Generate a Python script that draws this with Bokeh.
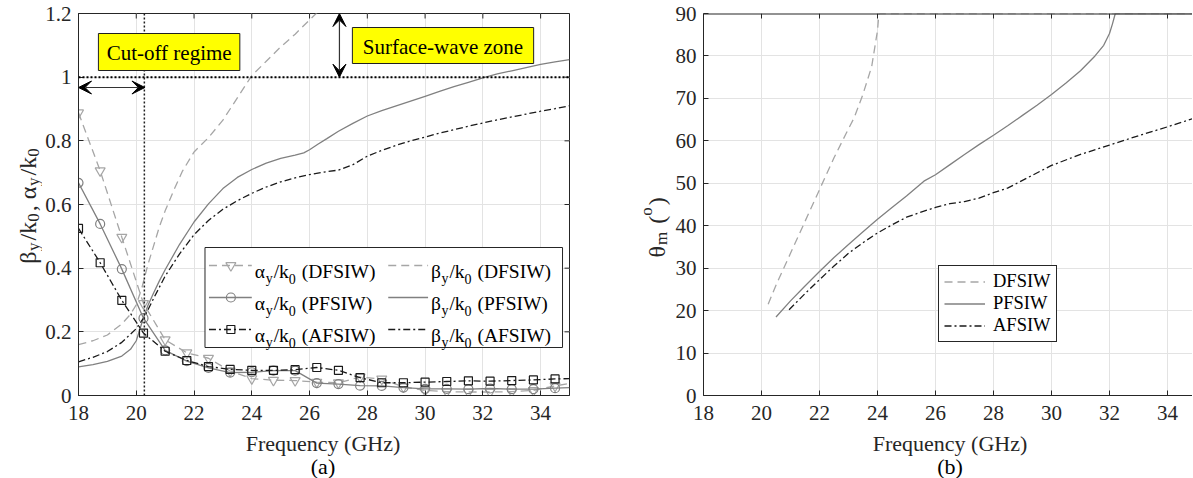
import math
from bokeh.plotting import figure
from bokeh.models import (Range1d, FixedTicker, Label, Span, BoxAnnotation,
                          Arrow, VeeHead, NumeralTickFormatter, Legend, LegendItem)
from bokeh.layouts import row, column
from bokeh.embed import file_html
from bokeh.resources import INLINE

FONT = "Liberation Serif"
AXFONT = "'Liberation Serif'"

# ---------------- data: panel (a) ----------------
f_alpha = [18, 18.75, 19.5, 20.25, 21, 21.75, 22.5, 23.25, 24, 24.75, 25.5, 26.25, 27,
           27.75, 28.5, 29.25, 30, 30.75, 31.5, 32.25, 33, 33.75, 34.5, 35]
alpha_dfsiw = [0.888, 0.706, 0.497, 0.289, 0.175, 0.134, 0.117, 0.077, 0.053, 0.048, 0.047,
               0.042, 0.040, 0.058, 0.052, 0.027, 0.016, 0.012, 0.011, 0.011, 0.012, 0.016,
               0.030, 0.038]
alpha_pfsiw = [0.668, 0.539, 0.397, 0.243, 0.142, 0.108, 0.087, 0.072, 0.073, 0.078, 0.078,
               0.039, 0.036, 0.031, 0.030, 0.025, 0.021, 0.021, 0.020, 0.022, 0.020, 0.020,
               0.023, 0.025]
alpha_afsiw = [0.525, 0.417, 0.299, 0.196, 0.139, 0.110, 0.091, 0.082, 0.079, 0.079, 0.081,
               0.088, 0.079, 0.056, 0.040, 0.040, 0.042, 0.044, 0.046, 0.045, 0.047, 0.049,
               0.052, 0.053]

f_beta_d = [18, 18.5, 19, 19.5, 19.8, 20.0, 20.2, 20.4, 20.6, 20.8, 21.0, 21.3, 21.6, 22.0,
            22.5, 23.0, 23.5, 24.0, 24.5, 25.0, 25.5, 26.0, 26.4]
beta_dfsiw = [0.160, 0.172, 0.190, 0.225, 0.255, 0.285, 0.340, 0.410, 0.470, 0.530, 0.580,
              0.645, 0.705, 0.765, 0.810, 0.865, 0.935, 1.005, 1.050, 1.095, 1.135, 1.180, 1.215]

f_beta_p = [18, 18.5, 19, 19.5, 19.8, 20.0, 20.2, 20.4, 20.6, 20.8, 21, 21.5, 22, 22.5, 23,
            23.5, 24, 24.5, 25, 25.5, 25.8, 26.0, 26.3, 26.6, 27, 27.5, 28, 28.5, 29, 29.5,
            30, 30.5, 31, 31.5, 32, 32.5, 33, 33.5, 34, 34.5, 35]
beta_pfsiw = [0.090, 0.097, 0.107, 0.124, 0.145, 0.172, 0.230, 0.282, 0.322, 0.360, 0.395,
              0.475, 0.545, 0.602, 0.650, 0.685, 0.710, 0.730, 0.745, 0.755, 0.762, 0.772,
              0.790, 0.807, 0.830, 0.855, 0.878, 0.895, 0.910, 0.925, 0.940, 0.955, 0.970,
              0.984, 0.998, 1.010, 1.020, 1.030, 1.040, 1.048, 1.055]

f_beta_a = [18, 18.5, 19, 19.5, 20.0, 20.3, 20.6, 21, 21.5, 22, 22.5, 23, 23.5, 24, 24.5, 25,
            25.5, 26, 26.5, 27, 27.5, 28, 28.5, 29, 29.5, 30, 30.5, 31, 31.5, 32, 32.5, 33,
            33.5, 34, 34.5, 35]
beta_afsiw = [0.106, 0.120, 0.138, 0.167, 0.210, 0.250, 0.305, 0.375, 0.445, 0.505, 0.550,
              0.585, 0.612, 0.635, 0.655, 0.671, 0.684, 0.694, 0.702, 0.708, 0.725, 0.752,
              0.770, 0.786, 0.800, 0.812, 0.824, 0.835, 0.846, 0.856, 0.866, 0.875, 0.884,
              0.893, 0.901, 0.910]

# ---------------- data: panel (b) ----------------
f_th_d = [20.23, 20.5, 21.0, 21.5, 22.0, 22.5, 22.9, 23.2, 23.5, 23.8, 24.0, 24.05, 35]
theta_dfsiw = [21.5, 26.0, 33.5, 41.0, 48.5, 56.0, 61.5, 65.5, 71.0, 77.5, 86.0, 90.0, 90.0]

f_th_p = [20.5, 21, 21.5, 22, 22.5, 23, 23.5, 24, 24.5, 25, 25.6, 26, 26.5, 27, 27.5, 28,
          28.5, 29, 29.5, 30, 30.5, 31, 31.5, 31.8, 32.0, 32.1, 32.2, 35]
theta_pfsiw = [18.5, 22.3, 25.8, 29.2, 32.5, 35.6, 38.6, 41.5, 44.3, 47.0, 50.5, 52.0, 54.4,
               56.8, 59.1, 61.3, 63.6, 66.0, 68.4, 70.9, 73.6, 76.5, 80.0, 82.5, 85.3, 87.5,
               90.0, 90.0]

f_th_a = [20.95, 21.5, 22, 22.5, 23, 23.5, 24, 24.5, 25, 25.5, 26, 26.5, 27, 27.5, 28, 28.5,
          29, 30, 31, 32, 33, 34, 35]
theta_afsiw = [20.2, 24.0, 27.3, 30.5, 33.5, 36.0, 38.3, 40.2, 42.0, 43.2, 44.3, 45.2, 45.7,
               46.5, 47.8, 48.9, 50.7, 54.2, 56.8, 59.0, 61.2, 63.3, 65.5]

x_ticks = [18, 20, 22, 24, 26, 28, 30, 32, 34]
y_ticks_a = [0, 0.2, 0.4, 0.6, 0.8, 1, 1.2]
y_ticks_b = [0, 10, 20, 30, 40, 50, 60, 70, 80, 90]

names = ["DFSIW", "PFSIW", "AFSIW"]

# ---------------- styles ----------------
C_D, C_P, C_A = "#a6a6a6", "#808080", "#1a1a1a"
DASH_D, DASH_P, DASH_A = "8 5", "solid", "7 3 2 3"
LW = 1.3
AX = "#262626"
GRID = "#e3e3e3"

# geometry (page px, page has no margin)
H = 429           # main row height
STRIP_H = 49      # strip with x labels and (a)/(b)
TOP = 13
FRAME_H = 382
LA_W = 42                          # y-label strip of panel (a)
W1, L1, FW1 = 586, 34, 493         # panel (a) figure
LB_W = 44                          # y-label strip of panel (b)
W2, L2, FW2 = 520, 31, 489         # panel (b) figure
PXG = FW1 / 17.0
F0L = LA_W + L1
F0R = LA_W + W1 + LB_W + L2
FB = TOP + FRAME_H
PAGE_H = H + STRIP_H


def lx(px):
    return 18 + (px - F0L) / PXG


def ly(py):
    return 1.2 * (FB - py) / FRAME_H


EM = {' ': 0.25, '(': 0.333, ')': 0.333, '/': 0.278, ',': 0.25, '0': 0.5, 'y': 0.5,
      'k': 0.5, 'm': 0.778, 'o': 0.5, 'A': 0.722, 'D': 0.722, 'F': 0.556, 'I': 0.333,
      'P': 0.556, 'S': 0.556, 'W': 0.944, 'α': 0.56, 'β': 0.53, 'θ': 0.52}


def tw(s):
    return sum(EM.get(c, 0.5) for c in s)


def rich(p, x, y, segs, size, sub_size, drop, rise, angle=0.0, dx=0.0, dy=0.0,
         gap=1.0, color="#000000"):
    adv = 0.0
    for txt, kind in segs:
        fs = size if kind == "n" else sub_size
        shift = 0.0 if kind == "n" else (-drop if kind == "sub" else rise)
        lead = len(txt) - len(txt.lstrip(" "))
        adv += lead * EM[' '] * fs
        t = txt.lstrip(" ")
        if angle == 0:
            xo, yo = dx + adv, dy + shift
        else:
            xo, yo = dx - shift, dy + adv
        p.add_layout(Label(x=x, y=y, x_offset=xo, y_offset=yo, text=t, angle=angle,
                           text_font=FONT, text_font_size=f"{fs}px", text_color=color,
                           text_align="left", text_baseline="alphabetic"))
        adv += tw(t) * fs + (gap if kind != "n" else 0.0)


def style_axis(ax, ticks):
    ax.ticker = FixedTicker(ticks=ticks)
    ax.axis_line_color = AX
    ax.axis_line_width = 1
    ax.major_tick_line_color = AX
    ax.major_tick_in = 5
    ax.major_tick_out = 0
    ax.minor_tick_in = 0
    ax.minor_tick_out = 0
    ax.major_label_text_font = AXFONT
    ax.major_label_text_color = AX
    ax.major_label_text_font_size = "21px"
    ax.axis_label = None


def base_fig(w, left, right, xr, yr, yt):
    p = figure(width=w, height=H, x_range=xr, y_range=yr, output_backend="svg",
               toolbar_location=None, min_border_left=left, min_border_right=right,
               min_border_top=TOP, min_border_bottom=H - TOP - FRAME_H)
    p.background_fill_color = "white"
    style_axis(p.xaxis[0], x_ticks)
    p.xaxis[0].major_label_standoff = 10
    style_axis(p.yaxis[0], yt)
    p.yaxis[0].major_label_standoff = 7
    p.xgrid.ticker = FixedTicker(ticks=x_ticks)
    p.ygrid.ticker = FixedTicker(ticks=yt)
    for g in (p.xgrid, p.ygrid):
        g.grid_line_color = GRID
        g.grid_line_width = 1
    return p


def blank_fig(w, h):
    p = figure(width=w, height=h, x_range=Range1d(0, w), y_range=Range1d(0, h),
               output_backend="svg", toolbar_location=None, x_axis_type=None,
               y_axis_type=None, min_border=0)
    p.outline_line_color = None
    p.background_fill_color = "white"
    return p


# ================= panel (a) =================
p1 = base_fig(W1, L1, W1 - L1 - FW1, Range1d(18, 35), Range1d(0, 1.2), y_ticks_a)
p1.yaxis[0].formatter = NumeralTickFormatter(format="0.[0]")
p1.outline_line_color = AX
p1.outline_line_width = 1

# top / right inward ticks (box on)
tick_dy = 5 * 1.2 / FRAME_H
tick_dx = 5 / PXG
p1.segment(x0=x_ticks, y0=[1.2] * len(x_ticks), x1=x_ticks,
           y1=[1.2 - tick_dy] * len(x_ticks), line_color=AX, line_width=1)
p1.segment(x0=[35] * len(y_ticks_a), y0=y_ticks_a, x1=[35 - tick_dx] * len(y_ticks_a),
           y1=y_ticks_a, line_color=AX, line_width=1)

p1.line(f_beta_d, beta_dfsiw, line_color=C_D, line_dash=DASH_D, line_width=LW)
p1.line(f_beta_p, beta_pfsiw, line_color=C_P, line_width=LW)
p1.line(f_beta_a, beta_afsiw, line_color=C_A, line_dash=DASH_A, line_width=LW)

alpha_series = [(alpha_dfsiw, C_D, DASH_D, "inverted_triangle", 10),
                (alpha_pfsiw, C_P, DASH_P, "circle", 9),
                (alpha_afsiw, C_A, DASH_A, "square", 8)]
beta_styles = [(C_D, DASH_D), (C_P, DASH_P), (C_A, DASH_A)]
for vals, c, d, m, s in alpha_series:
    p1.line(f_alpha, vals, line_color=c, line_dash=d, line_width=LW)
    p1.scatter(f_alpha[:-1], vals[:-1], marker=m, size=s, line_color=c, fill_color=None,
               line_width=1.2)

# legend (custom, with subscripts)
p1.quad(left=[lx(203)], right=[lx(562)], bottom=[ly(347)], top=[ly(247)],
        fill_color="white", line_color=AX, line_width=1)
rows_py = [265, 297, 329]
for i, name in enumerate(names):
    yy = ly(rows_py[i])
    vals, c, d, m, s = alpha_series[i]
    p1.line([lx(207), lx(250)], [yy, yy], line_color=c, line_dash=d, line_width=LW)
    p1.scatter([lx(229)], [yy], marker=m, size=s, line_color=c, fill_color=None,
               line_width=1.2)
    bc, bd = beta_styles[i]
    p1.line([lx(387), lx(427)], [yy, yy], line_color=bc, line_dash=bd, line_width=LW)
    rich(p1, lx(253), yy, [("α", "n"), ("y", "sub"), ("/k", "n"), ("0", "sub"),
                           (f" ({name})", "n")], 19.5, 14, 7, 8, dy=-6)
    rich(p1, lx(430), yy, [("β", "n"), ("y", "sub"), ("/k", "n"), ("0", "sub"),
                           (f" ({name})", "n")], 19.5, 14, 7, 8, dy=-6)

# reference lines
p1.add_layout(Span(location=1.0, dimension="width", line_color="black", line_width=2,
                   line_dash="2 2"))
p1.add_layout(Span(location=20.28, dimension="height", line_color="#202020",
                   line_width=1.5, line_dash="2 2"))

# annotation boxes
p1.add_layout(BoxAnnotation(left=lx(96), right=lx(238), top=ly(33), bottom=ly(70),
                            fill_color="#ffff00", fill_alpha=1, line_color="#202020",
                            line_alpha=1, line_width=1))
p1.add_layout(BoxAnnotation(left=lx(351), right=lx(533), top=ly(27), bottom=ly(63),
                            fill_color="#ffff00", fill_alpha=1, line_color="#202020",
                            line_alpha=1, line_width=1))
p1.add_layout(Label(x=lx(167), y=ly(52), text="Cut-off regime", text_align="center",
                    text_baseline="middle", text_font=FONT, text_font_size="21px",
                    text_color="black"))
p1.add_layout(Label(x=lx(442), y=ly(46), text="Surface-wave zone", text_align="center",
                    text_baseline="middle", text_font=FONT, text_font_size="21px",
                    text_color="black"))


def head():
    return VeeHead(size=13, fill_color="black", line_color="black", line_width=1)


p1.add_layout(Arrow(start=head(), end=head(), x_start=18.0, y_start=ly(87),
                    x_end=20.3, y_end=ly(87), line_color="#333333", line_width=1.2))
p1.add_layout(Arrow(start=head(), end=head(), x_start=lx(338), y_start=1.2,
                    x_end=lx(338), y_end=1.0, line_color="#333333", line_width=1.2))

# y label of panel (a) in its own strip
la = blank_fig(LA_W, H)
rich(la, 27, H - 281, [("β", "n"), ("y", "sub"), ("/k", "n"), ("0", "sub"),
                       (", ", "n"), ("α", "n"), ("y", "sub"), ("/k", "n"),
                       ("0", "sub")], 24, 17, 6, 9, angle=math.pi / 2, gap=2.0,
     color=AX)

# ================= panel (b) =================
x_end_b = 18 + FW2 / PXG
p2 = base_fig(W2, L2, W2 - L2 - FW2, Range1d(18, x_end_b), Range1d(0, 90), y_ticks_b)
p2.outline_line_color = None
p2.add_layout(Span(location=90, dimension="width", line_color=AX, line_width=2))
tick_db = 5 * 90 / FRAME_H
p2.segment(x0=x_ticks, y0=[90] * len(x_ticks), x1=x_ticks,
           y1=[90 - tick_db] * len(x_ticks), line_color=AX, line_width=1)

r_d = p2.line(f_th_d, theta_dfsiw, line_color=C_D, line_dash=DASH_D, line_width=LW)
r_p = p2.line(f_th_p, theta_pfsiw, line_color=C_P, line_width=LW)
r_a = p2.line(f_th_a, theta_afsiw, line_color=C_A, line_dash=DASH_A, line_width=LW)

leg = Legend(items=[LegendItem(label=names[0], renderers=[r_d]),
                    LegendItem(label=names[1], renderers=[r_p]),
                    LegendItem(label=names[2], renderers=[r_a])],
             location=(938 - F0R, FB - 342), orientation="vertical",
             label_text_font=FONT, label_text_font_size="18.5px", label_text_color="black",
             glyph_width=41, glyph_height=21, label_height=21, label_standoff=8,
             padding=5, spacing=1, margin=0, border_line_color=AX, border_line_width=1,
             border_line_alpha=1, background_fill_color="white", background_fill_alpha=1)
p2.add_layout(leg)

lb = blank_fig(LB_W, H)
rich(lb, 656 - (LA_W + W1), H - 274, [("θ", "n"), ("m", "sub"), (" (", "n"),
                                      ("o", "sup"), (")", "n")], 24, 17, 5, 10,
     angle=math.pi / 2, gap=2.0, color=AX)

# ================= bottom strip: x labels and (a) / (b) =================
TOTAL_W = LA_W + W1 + LB_W + W2
strip = blank_fig(TOTAL_W, STRIP_H)
for xc, tag in ((322.5, "(a)"), (949.5, "(b)")):
    strip.add_layout(Label(x=xc, y=PAGE_H - 442.5, text="Frequency (GHz)",
                           text_align="center", text_baseline="middle", text_font=FONT,
                           text_font_size="22px", text_color=AX))
    strip.add_layout(Label(x=xc, y=PAGE_H - 466, text=tag, text_align="center",
                           text_baseline="middle", text_font=FONT, text_font_size="22px",
                           text_color="black"))

layout = column(row(la, p1, lb, p2), strip)
open("out.html", "w").write(file_html(layout, INLINE))
